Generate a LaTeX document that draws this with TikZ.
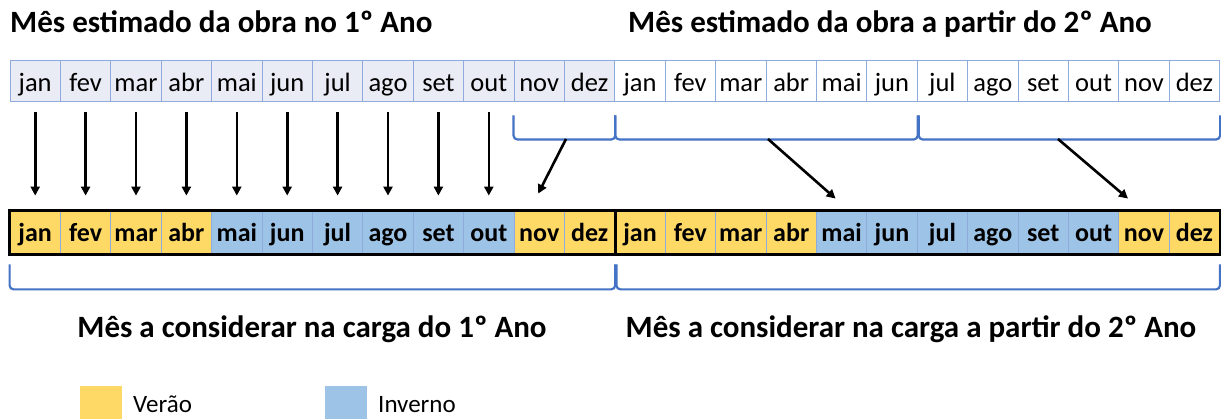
\documentclass[tikz,border=0pt]{standalone}
\usepackage{fontspec}
\setmainfont{Carlito}
\usetikzlibrary{arrows.meta, positioning, calc}
\definecolor{verao}{HTML}{FFD966}
\definecolor{inverno}{HTML}{9DC3E6}
\definecolor{anoum}{HTML}{E9EBF5}
\definecolor{grelha}{HTML}{8FAADC}
\definecolor{chaveta}{HTML}{4472C4}

\begin{document}
\begin{tikzpicture}[x=1pt,y=-1pt,
    topcell/.style={draw=grelha, line width=1pt, minimum width=50.4pt, minimum height=41pt, inner sep=0pt, text height=22pt, text depth=2pt, font=\fontsize{26.5}{28}\selectfont},
    botcell/.style={draw=grelha, line width=0.8pt, minimum width=50.4pt, minimum height=43pt, inner sep=0pt, text height=20pt, text depth=2pt, font=\bfseries\fontsize{26}{28}\selectfont},
    titulo/.style={font=\bfseries\fontsize{31}{34}\selectfont, inner sep=0pt, anchor=base west},
    seta/.style={-{Triangle[width=9pt,length=9pt]}, line width=2.6pt},
    chav/.style={draw=chaveta, line width=2.2pt, rounded corners=4pt},
    legbox/.style={minimum width=42pt, minimum height=36pt, inner sep=0pt, anchor=north west},
    legtxt/.style={font=\fontsize{25}{28}\selectfont, inner sep=0pt, anchor=base west}]
    \useasboundingbox (0,0) rectangle (1221,419);

    % Titles
    \node[titulo] (tt1) at (10,33) {Mês estimado da obra no 1º Ano};
    \node[titulo] (tt2) at (628,33) {Mês estimado da obra a partir do 2º Ano};

    % Top row: estimated month
    \foreach \yr in {0,1}
    \foreach \m [count=\k] in {jan,fev,mar,abr,mai,jun,jul,ago,set,out,nov,dez}{
        \pgfmathtruncatemacro{\i}{12*\yr+\k}
        \ifnum\yr=0 \def\fc{anoum}\else\def\fc{white}\fi
        \node[topcell, fill=\fc] (t\i) at ({10+(\i-0.5)*50.4}, 81.5) {\m};
    }

    % Bottom row: month used for the load
    \foreach \yr in {0,1}
    \foreach \m/\c [count=\k] in {jan/verao,fev/verao,mar/verao,abr/verao,mai/inverno,jun/inverno,
        jul/inverno,ago/inverno,set/inverno,out/inverno,nov/verao,dez/verao}{
        \pgfmathtruncatemacro{\i}{12*\yr+\k}
        \node[botcell, fill=\c] (b\i) at ({10+(\i-0.5)*50.4}, 232.5) {\m};
    }
    \draw[line width=3pt] (b1.north west) rectangle (b24.south east);
    \draw[line width=3pt] (b12.north east) -- (b12.south east);

    % Straight arrows jan..out
    \foreach \i in {1,...,10}
        \draw[seta, shorten <=10pt, shorten >=15pt] (t\i.south) -- (b\i.north);

    % Top brackets
    \draw[chav] ($(t11.south west)+(0,13)$) -- ($(t11.south west)+(0,37)$) -- ($(t12.south east)+(0,37)$) -- ($(t12.south east)+(0,13)$);
    \draw[chav] ($(t13.south west)+(1,13)$) -- ($(t13.south west)+(1,37)$) -- ($(t18.south east)+(0,37)$) -- ($(t18.south east)+(0,13)$);
    \draw[chav] ($(t19.south west)+(2,13)$) -- ($(t19.south west)+(2,37)$) -- ($(t24.south east)+(0,37)$) -- ($(t24.south east)+(0,13)$);
    \coordinate (k1) at (566,139);
    \coordinate (k2) at (768,139);
    \coordinate (k3) at (1058,139);

    % Bracket arrows
    \draw[seta] (k1) -- ($(b11.north)+(-1,-17)$);
    \draw[seta] (k2) -- ($(b17.north)+(-6,-12)$);
    \draw[seta] (k3) -- ($(b23.north)+(-16,-12)$);

    % Bottom brackets
    \draw[chav] ($(b1.south west)+(0,10)$) -- ($(b1.south west)+(0,35)$) -- ($(b12.south east)+(0,35)$) -- ($(b12.south east)+(0,10)$);
    \draw[chav] ($(b13.south west)+(2,10)$) -- ($(b13.south west)+(2,35)$) -- ($(b24.south east)+(0,35)$) -- ($(b24.south east)+(0,10)$);

    % Bottom labels
    \node[titulo, anchor=base] (lb1) at (312,338) {Mês a considerar na carga do 1º Ano};
    \node[titulo, anchor=base] (lb2) at (911,338) {Mês a considerar na carga a partir do 2º Ano};

    % Legend
    \node[legbox, fill=verao] (lv) at (80,386) {};
    \node[legtxt] (tv) at (133,413) {Verão};
    \node[legbox, fill=inverno] (li) at (325,386) {};
    \node[legtxt] (ti) at (378,413) {Inverno};
\end{tikzpicture}
\end{document}
